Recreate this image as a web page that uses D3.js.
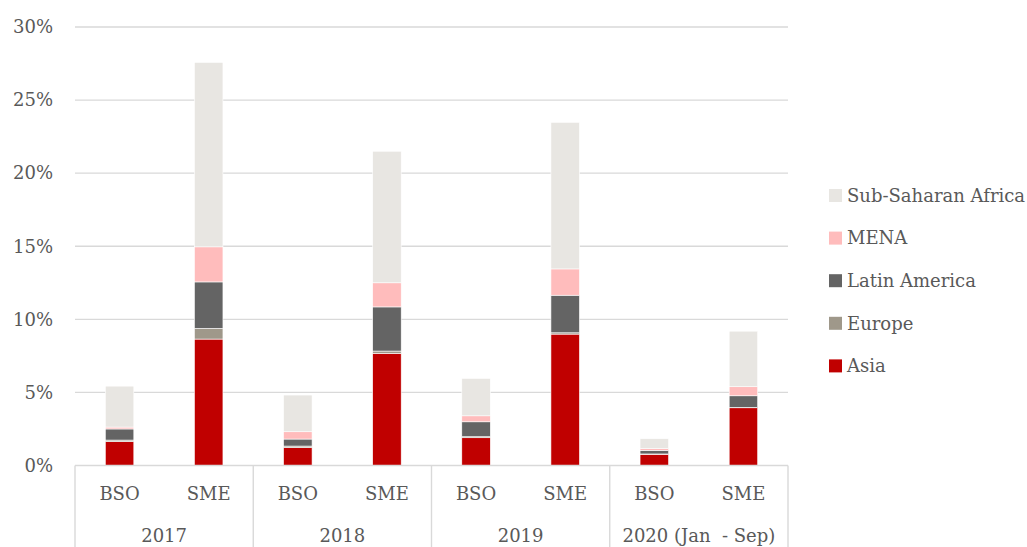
<!DOCTYPE html>
<html>
<head>
<meta charset="utf-8">
<script src="https://cdn.jsdelivr.net/npm/d3@7"></script>
<style>
  html, body { margin: 0; padding: 0; background: #fff; }
</style>
</head>
<body>
<svg id="chart" width="1027" height="547"></svg>
<script>
// Category axis: year groups, each with a BSO and an SME bar
const years = ["2017", "2018", "2019", "2020 (Jan  - Sep)"];
const types = ["BSO", "SME"];

// Regions, stacked bottom to top
const regions = ["Asia", "Europe", "Latin America", "MENA", "Sub-Saharan Africa"];
const regionColors = ["#c00000", "#9f988a", "#646464", "#ffbcbc", "#e8e6e2"];

// Share per bar (%), ordered 2017 BSO, 2017 SME, 2018 BSO, ... 2020 SME
const asia      = [1.63, 8.65, 1.22, 7.67, 1.90, 8.99, 0.77, 3.95];
const europe    = [0.11, 0.73, 0.11, 0.16, 0.07, 0.09, 0.02, 0.02];
const latin     = [0.76, 3.18, 0.48, 3.02, 1.02, 2.57, 0.25, 0.80];
const mena      = [0.13, 2.40, 0.50, 1.65, 0.41, 1.80, 0.11, 0.62];
const ssa       = [2.80, 12.62, 2.51, 9.00, 2.56, 10.03, 0.68, 3.80];

const yTicks = [0, 5, 10, 15, 20, 25, 30];

const seriesValues = [asia, europe, latin, mena, ssa];

const FONT = "'DejaVu Serif', serif";
const TEXT = "#595959";
const FS = 18;

const bars = [];
years.forEach((yr, i) => types.forEach((t, j) => {
  const k = i * types.length + j;
  const row = { key: yr + "|" + t, year: yr, type: t };
  regions.forEach((r, s) => row[r] = seriesValues[s][k]);
  bars.push(row);
}));

const svg = d3.select("#chart")
  .attr("font-family", FONT);
const plot = { left: 75, right: 788, top: 27, bottom: 465.5 };

const x = d3.scaleBand()
  .domain(bars.map(d => d.key))
  .range([plot.left, plot.right])
  .padding(0);

const y = d3.scaleLinear()
  .domain([0, 30])
  .range([plot.bottom, plot.top]);

const barWidth = x.bandwidth() * 0.32;

// Horizontal gridlines
svg.append("g")
  .selectAll("line")
  .data(yTicks.filter(t => t > 0))
  .join("line")
  .attr("x1", plot.left).attr("x2", plot.right)
  .attr("y1", d => y(d)).attr("y2", d => y(d))
  .attr("stroke", "#d9d9d9").attr("stroke-width", 1.4);

// Y axis labels
const yAxis = d3.axisLeft(y).tickValues(yTicks).tickFormat(d => d + "%").tickSize(0).tickPadding(22);
const yg = svg.append("g").attr("transform", `translate(${plot.left},0)`).call(yAxis);
yg.attr("font-family", FONT).attr("font-size", FS);
yg.select(".domain").remove();
yg.selectAll("text").attr("fill", TEXT);

// Stacked bars
const stack = d3.stack().keys(regions);
const layers = stack(bars);

svg.append("g")
  .selectAll("g")
  .data(layers)
  .join("g")
  .attr("fill", (d, i) => regionColors[i])
  .selectAll("rect")
  .data(d => d)
  .join("rect")
  .attr("x", d => x(d.data.key) + (x.bandwidth() - barWidth) / 2)
  .attr("width", barWidth)
  .attr("y", d => y(d[1]))
  .attr("height", d => Math.max(0, y(d[0]) - y(d[1])))
  .attr("stroke", "#ffffff")
  .attr("stroke-width", 0.6);

// Category axis baseline
svg.append("line")
  .attr("x1", plot.left).attr("x2", plot.right)
  .attr("y1", plot.bottom).attr("y2", plot.bottom)
  .attr("stroke", "#d9d9d9").attr("stroke-width", 1.4);

// Group separators
const groupEdges = years.map((yr, i) => x(yr + "|" + types[0]));
groupEdges.push(plot.right);
svg.append("g")
  .selectAll("line")
  .data(groupEdges)
  .join("line")
  .attr("x1", d => d).attr("x2", d => d)
  .attr("y1", plot.bottom).attr("y2", 547)
  .attr("stroke", "#d9d9d9").attr("stroke-width", 1.4);

// Inner category labels
svg.append("g")
  .selectAll("text")
  .data(bars)
  .join("text")
  .attr("x", d => x(d.key) + x.bandwidth() / 2)
  .attr("y", 500)
  .attr("text-anchor", "middle")
  .attr("font-size", FS)
  .attr("fill", TEXT)
  .text(d => d.type);

// Year labels
svg.append("g")
  .selectAll("text")
  .data(years)
  .join("text")
  .attr("x", d => x(d + "|" + types[0]) + x.bandwidth())
  .attr("y", 542)
  .attr("text-anchor", "middle")
  .attr("font-size", FS)
  .attr("fill", TEXT)
  .attr("xml:space", "preserve")
  .style("white-space", "pre")
  .text(d => d);

// Legend, top entry is the top of the stack
const legendItems = regions.map((r, i) => ({ name: r, color: regionColors[i] })).reverse();
const legend = svg.append("g").attr("transform", "translate(829,195.5)");
const li = legend.selectAll("g")
  .data(legendItems)
  .join("g")
  .attr("transform", (d, i) => `translate(0,${i * 42.6})`);
li.append("rect")
  .attr("x", 0).attr("y", -6.5)
  .attr("width", 13).attr("height", 13)
  .attr("fill", d => d.color);
li.append("text")
  .attr("x", 18).attr("y", 0)
  .attr("dy", "0.35em")
  .attr("font-size", FS)
  .attr("fill", TEXT)
  .text(d => d.name);
</script>
</body>
</html>
